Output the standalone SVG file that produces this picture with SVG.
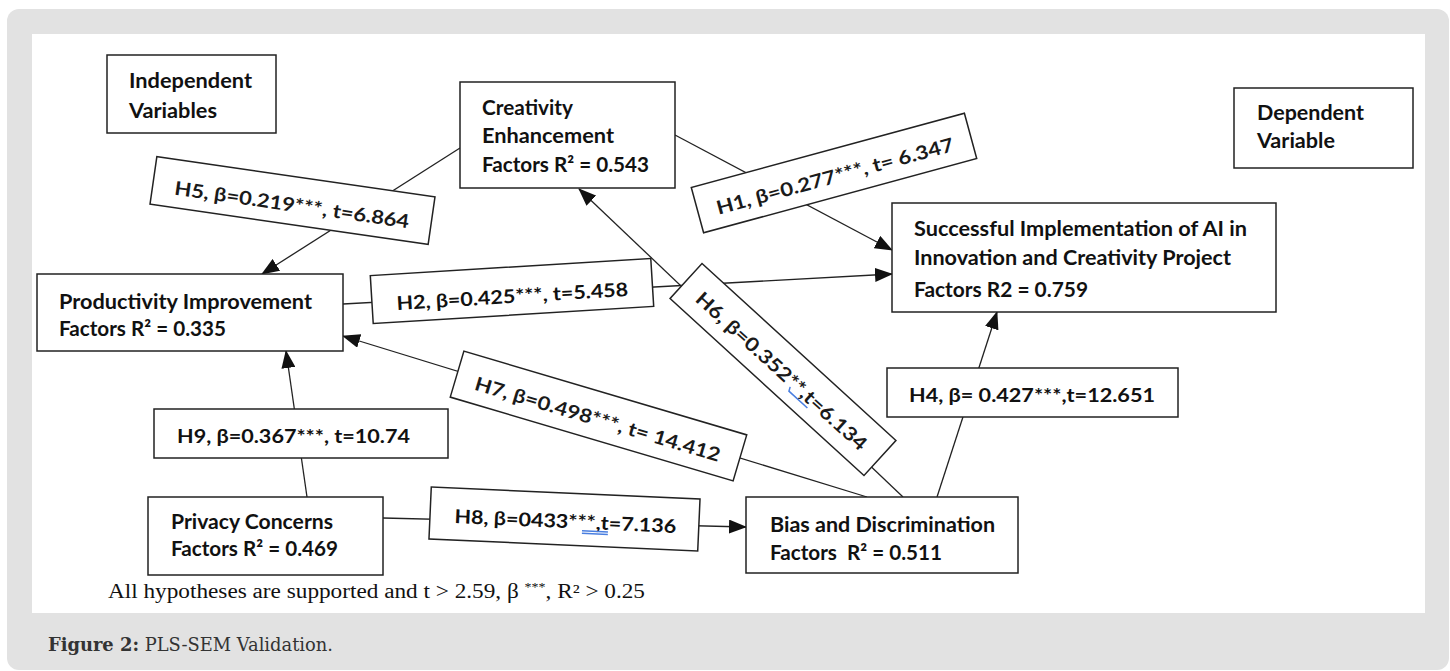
<svg xmlns="http://www.w3.org/2000/svg" width="1450" height="671" viewBox="0 0 1450 671">
<defs>
<marker id="arr" markerUnits="userSpaceOnUse" markerWidth="18" markerHeight="14" refX="17" refY="7" orient="auto"><path d="M0,0 L18,7 L0,14 z" fill="#111"/></marker>
<style>
.box{fill:#fff;stroke:#222;stroke-width:1.5}
.n{font-family:Lato,"Liberation Sans",sans-serif;font-weight:700;font-size:21px;fill:#111}
.lb{font-family:Lato,"Liberation Sans",sans-serif;font-weight:700;font-size:19px;fill:#111}
.lr{font-family:Lato,"Liberation Sans",sans-serif;font-weight:700;font-size:19px;fill:#1a1a1a}
.c{fill:none;stroke:#222;stroke-width:1.3;marker-end:url(#arr)}
.blue{stroke:#4a7fe0;stroke-width:1.5;fill:none}
</style>
</defs>
<rect x="7" y="9" width="1442" height="661" rx="12" fill="#e2e2e2"/>
<rect x="32" y="34" width="1393" height="579" fill="#fff"/>

<g id="connectors">
<line class="c" x1="675" y1="135" x2="892" y2="250"/>
<line class="c" x1="343" y1="304" x2="892" y2="274"/>
<line class="c" x1="460" y1="148" x2="262" y2="274"/>
<line class="c" x1="903" y1="497" x2="579" y2="189"/>
<line class="c" x1="867" y1="497" x2="343" y2="336"/>
<line class="c" x1="383" y1="518" x2="746" y2="527"/>
<line class="c" x1="307" y1="497" x2="286" y2="351"/>
<line class="c" x1="937" y1="497" x2="997" y2="312"/>
</g>

<g id="node-independent">
<rect class="box" x="107" y="55" width="169" height="78"/>
<text class="n" x="129" y="88" textLength="123" lengthAdjust="spacingAndGlyphs">Independent</text>
<text class="n" x="129" y="118" textLength="88" lengthAdjust="spacingAndGlyphs">Variables</text>
</g>
<g id="node-creativity">
<rect class="box" x="460" y="82" width="215" height="106"/>
<text class="n" x="482" y="115" textLength="91" lengthAdjust="spacingAndGlyphs">Creativity</text>
<text class="n" x="482" y="143" textLength="132" lengthAdjust="spacingAndGlyphs">Enhancement</text>
<text class="n" x="482" y="172" textLength="167" lengthAdjust="spacingAndGlyphs">Factors R² = 0.543</text>
</g>
<g id="node-dependent">
<rect class="box" x="1234" y="88" width="179" height="80"/>
<text class="n" x="1257" y="120" textLength="107" lengthAdjust="spacingAndGlyphs">Dependent</text>
<text class="n" x="1257" y="148" textLength="78" lengthAdjust="spacingAndGlyphs">Variable</text>
</g>
<g id="node-successful">
<rect class="box" x="892" y="203" width="384" height="109"/>
<text class="n" x="914" y="236" textLength="333" lengthAdjust="spacingAndGlyphs">Successful Implementation of AI in</text>
<text class="n" x="914" y="265" textLength="317" lengthAdjust="spacingAndGlyphs">Innovation and Creativity Project</text>
<text class="n" x="914" y="297" textLength="174" lengthAdjust="spacingAndGlyphs">Factors R2 = 0.759</text>
</g>
<g id="node-productivity">
<rect class="box" x="37" y="274" width="306" height="77"/>
<text class="n" x="59" y="309" textLength="253" lengthAdjust="spacingAndGlyphs">Productivity Improvement</text>
<text class="n" x="59" y="336" textLength="167" lengthAdjust="spacingAndGlyphs">Factors R² = 0.335</text>
</g>
<g id="node-privacy">
<rect class="box" x="148" y="497" width="235" height="78"/>
<text class="n" x="171" y="529" textLength="162" lengthAdjust="spacingAndGlyphs">Privacy Concerns</text>
<text class="n" x="171" y="556" textLength="167" lengthAdjust="spacingAndGlyphs">Factors R² = 0.469</text>
</g>
<g id="node-bias">
<rect class="box" x="746" y="497" width="272" height="76"/>
<text class="n" x="770" y="532" textLength="225" lengthAdjust="spacingAndGlyphs">Bias and Discrimination</text>
<text class="n" x="770" y="560" textLength="172" lengthAdjust="spacingAndGlyphs" xml:space="preserve">Factors  R² = 0.511</text>
</g>

<g id="label-h5" transform="translate(292.5,200.5) rotate(8.2)">
<rect class="box" x="-140.5" y="-24" width="281" height="48"/>
<text class="lr" x="0" y="11" text-anchor="middle" textLength="237" lengthAdjust="spacingAndGlyphs">H5, β=0.219***, t=6.864</text>
</g>
<g id="label-h1" transform="translate(834,173) rotate(-15.2)">
<rect class="box" x="-141.5" y="-23.5" width="283" height="47"/>
<text class="lr" x="0" y="10" text-anchor="middle" textLength="245" lengthAdjust="spacingAndGlyphs">H1, β=0.277***, t= 6.347</text>
</g>
<g id="label-h2" transform="translate(512,291) rotate(-3.5)">
<rect class="box" x="-140.5" y="-24" width="281" height="48"/>
<text class="lb" x="0" y="12" text-anchor="middle" textLength="232" lengthAdjust="spacingAndGlyphs">H2, β=0.425***, t=5.458</text>
</g>
<g id="label-h6" transform="translate(783,369.5) rotate(42.4)">
<rect class="box" x="-131.3" y="-23.7" width="262.6" height="47.4"/>
<text class="lr" x="0" y="9" text-anchor="middle" textLength="224" lengthAdjust="spacingAndGlyphs">H6, β=0.352**,t=6.134</text>
<path class="blue" d="M17,8 L19,12 L44,12"/>
</g>
<g id="label-h7" transform="translate(598.5,416) rotate(16.5)">
<rect class="box" x="-147.5" y="-24" width="295" height="48"/>
<text class="lr" x="0" y="10" text-anchor="middle" textLength="255" lengthAdjust="spacingAndGlyphs">H7, β=0.498***, t= 14.412</text>
</g>
<g id="label-h8" transform="translate(564.5,519) rotate(2.55)">
<rect class="box" x="-134.5" y="-26" width="269" height="52"/>
<text class="lb" x="1" y="9" text-anchor="middle" textLength="222" lengthAdjust="spacingAndGlyphs">H8, β=0433***,t=7.136</text>
<path class="blue" d="M18,11 L44,11 M18,13.5 L44,13.5"/>
</g>
<g id="label-h9">
<rect class="box" x="154" y="409" width="294" height="49"/>
<text class="lb" x="177" y="443" textLength="233" lengthAdjust="spacingAndGlyphs">H9, β=0.367***, t=10.74</text>
</g>
<g id="label-h4">
<rect class="box" x="887" y="368" width="291" height="49"/>
<text class="lb" x="909" y="402" textLength="246" lengthAdjust="spacingAndGlyphs">H4, β= 0.427***,t=12.651</text>
</g>

<text x="108" y="598" font-family="'Liberation Serif',serif" font-size="20" fill="#111" textLength="537" lengthAdjust="spacingAndGlyphs">All hypotheses are supported and t &gt; 2.59, β <tspan font-size="12" dy="-7">***</tspan><tspan dy="7">, R² &gt; 0.25</tspan></text>
<text x="48" y="651" font-family="'DejaVu Serif',serif" font-size="18" fill="#333" textLength="285" lengthAdjust="spacingAndGlyphs"><tspan font-weight="700">Figure 2:</tspan> PLS-SEM Validation.</text>
</svg>
